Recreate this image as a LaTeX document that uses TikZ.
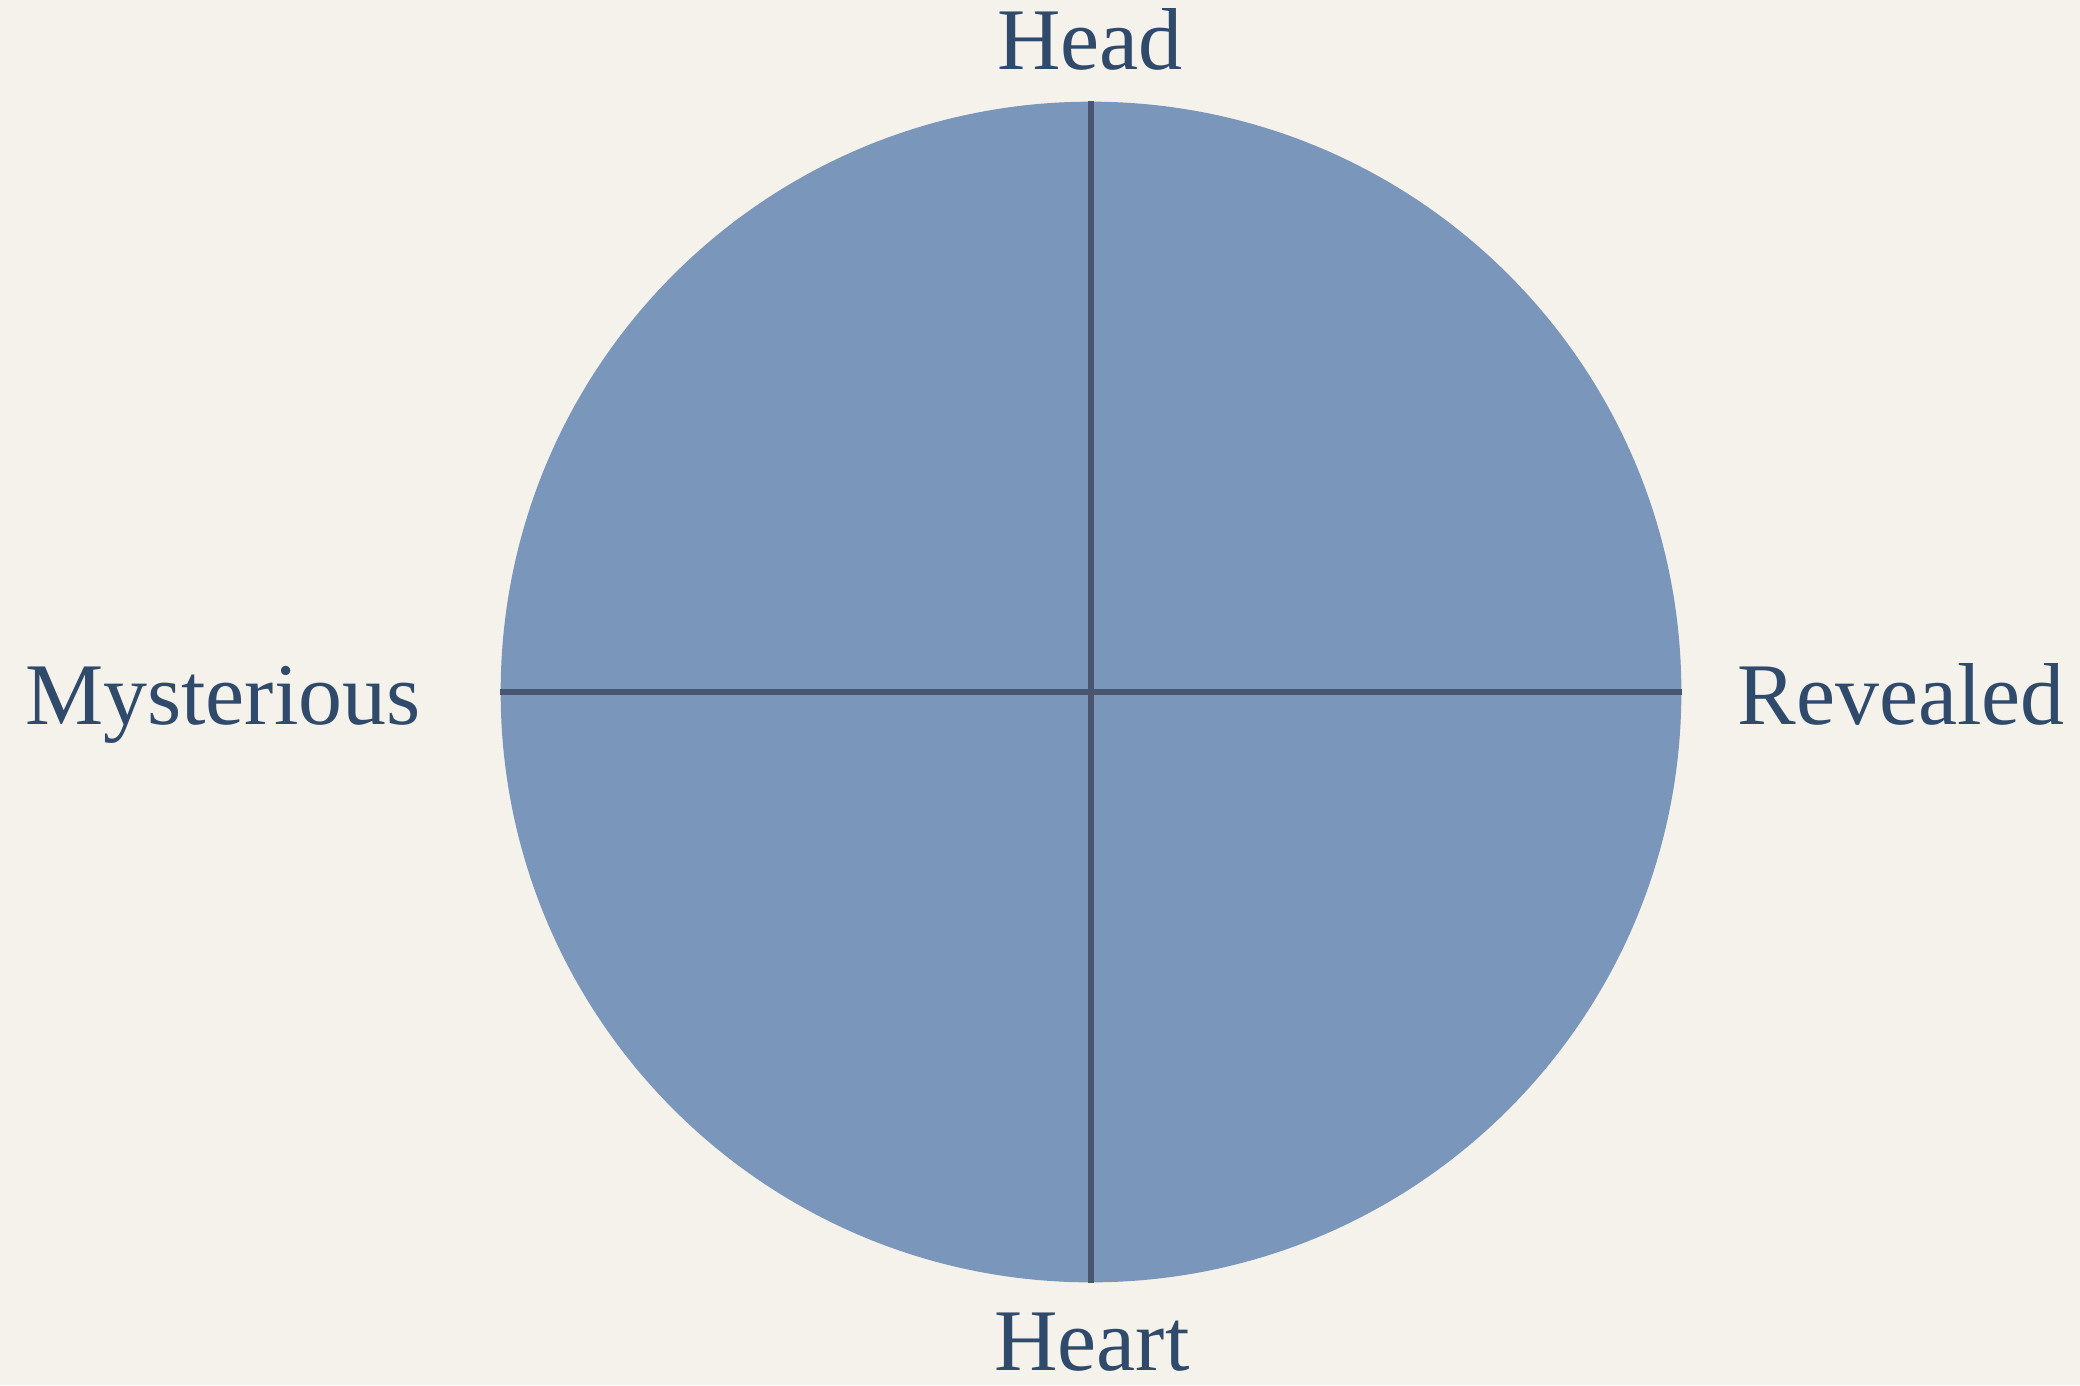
\documentclass[tikz,border=0pt]{standalone}
\usepackage{fontspec}
\setmainfont{Liberation Serif}
\usetikzlibrary{positioning}
\definecolor{paper}{HTML}{F5F2EC}
\definecolor{wheelfill}{HTML}{7A96BA}
\definecolor{axisline}{HTML}{4A5670}
\definecolor{labelink}{HTML}{2F4A6A}
\tikzset{
  wheel/.style={circle, fill=wheelfill, inner sep=0pt, minimum size=11.80cm},
  axis/.style={draw=axisline, line width=1.8pt},
  pole/.style={text=labelink, font=\fontsize{25}{30}\selectfont, inner sep=0pt, anchor=base}
}
\begin{document}
\begin{tikzpicture}[x=0.01cm, y=-0.01cm]
\fill[paper] (0,0) rectangle (2080,1385);
\useasboundingbox (0,0) rectangle (2080,1385);
\node[wheel] (w) at (1091,692) {};
\draw[axis] (w.north) -- (w.south);
\draw[axis] (w.west) -- (w.east);
\node[pole] (head) at (1090,70) {Head};
\node[pole] (heart) at (1092,1370) {Heart};
\node[pole] (myst) at (223,724) {Mysterious};
\node[pole] (rev) at (1901,724) {Revealed};
\end{tikzpicture}
\end{document}
